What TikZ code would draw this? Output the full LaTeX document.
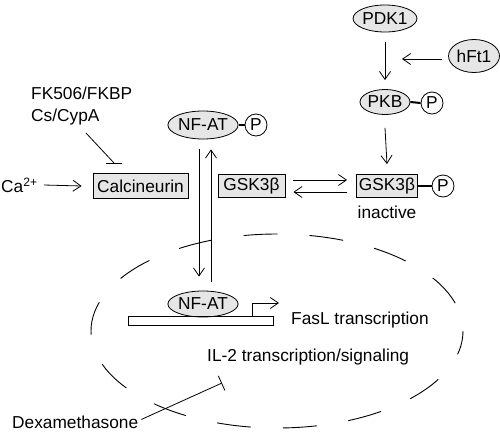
\documentclass[tikz,border=0pt]{standalone}
\usepackage{fontspec}
\setmainfont{Liberation Sans}
\usetikzlibrary{arrows.meta,shapes.geometric}
\definecolor{boxgray}{RGB}{230,230,230}
\tikzset{
  every node/.style={font=\fontsize{17.3}{22}\selectfont},
  oval/.style={ellipse,draw,fill=boxgray,inner sep=0pt,line width=0.8pt},
  gbox/.style={rectangle,draw,fill=boxgray,inner sep=0pt,line width=0.8pt,minimum height=23},
  phos/.style={circle,draw,fill=white,inner sep=0pt,minimum size=22,line width=0.8pt},
  link/.style={line width=2pt},
  arr/.style={line width=0.8pt,-{Straight Barb[length=8pt,width=11pt]}},
  inh/.style={line width=0.8pt},
  txt/.style={inner sep=0pt}
}
\begin{document}
\begin{tikzpicture}[x=1pt,y=-1pt]
\useasboundingbox (0,0) rectangle (500,434);
% nucleus
\draw[line width=0.9pt,dash pattern=on 34pt off 32pt,dash phase=10pt] (277,331) ellipse [x radius=186,y radius=97];
% top right
\node[oval,minimum width=57,minimum height=27] (pdk1) at (385,18.5) {PDK1};
\node[oval,minimum width=51,minimum height=33] (hft1) at (474,56) {hFt1};
\node[oval,minimum width=50,minimum height=25] (pkb) at (385,102) {PKB};
\node[phos] (pkbP) at (432,103) {P};
\draw[link] (pkb.east) -- (pkbP.west);
\node[gbox,minimum width=61] (gskR) at (387,186) {GSK3β};
\node[phos] (gskRP) at (443,186) {P};
\draw[link] (gskR.east) -- (gskRP.west);
\node[txt] (inact) at (387,212) {inactive};
\coordinate (hftend) at (402,59);
\draw[arr] ([yshift=-10pt]pdk1.south) -- ([yshift=9pt]pkb.north);
\draw[arr] ([yshift=-3pt,xshift=-6pt]hft1.west) -- (hftend);
\draw[arr] ([yshift=-13pt]pkb.south) -- ([yshift=10pt]gskR.north);
% GSK left
\node[gbox,minimum width=67] (gskL) at (251.5,186) {GSK3β};
\draw[arr] ([xshift=8pt,yshift=6pt]gskL.east) -- ([xshift=-9pt,yshift=6pt]gskR.west);
\draw[arr] ([xshift=-9pt,yshift=-6pt]gskR.west) -- ([xshift=8pt,yshift=-6pt]gskL.east);
% NF-AT
\node[oval,minimum width=64,minimum height=28] (nfatT) at (203,125) {NF-AT};
\node[phos] (nfatTP) at (256,125) {P};
\draw[link] (nfatT.east) -- (nfatTP.west);
\node[oval,minimum width=64,minimum height=26] (nfatB) at (203,304) {NF-AT};
\draw[arr] ([xshift=-4pt,yshift=-10pt]nfatT.south) -- ([xshift=-4pt,yshift=14pt]nfatB.north);
\draw[arr] ([xshift=8pt,yshift=9pt]nfatB.north) -- ([xshift=8pt,yshift=-10pt]nfatT.south);
% calcineurin
\node[gbox,minimum width=95,minimum height=25] (calc) at (140.5,186) {Calcineurin};
\node[txt,anchor=west] (ca) at (1,185) {Ca\textsuperscript{2+}};
\draw[arr] ([xshift=6pt]ca.east) -- ([xshift=-11pt]calc.west);
\node[txt,anchor=west,align=left] (fk) at (31,106) {FK506/FKBP\\Cs/CypA};
\coordinate (fkend) at (114,163);
\draw[inh] (86,133) -- (fkend);
\draw[inh] ([xshift=-8pt]fkend) -- ([xshift=8pt]fkend);
% gene
\node[draw,rectangle,line width=0.8pt,inner sep=0pt,minimum width=145,minimum height=9,anchor=north west] (gene) at (128,316) {};
\coordinate (tss) at (252,316);
\coordinate (tssend) at (279,303);
\draw[arr] (tss) |- (tssend);
\node[txt,anchor=west] (fasl) at (291,320) {FasL transcription};
\node[txt,anchor=west] (il2) at (207,357) {IL-2 transcription/signaling};
\node[txt,anchor=west] (dexa) at (12,422) {Dexamethasone};
\coordinate (dexend) at (222,383);
\draw[inh,-{Bar[width=16pt]}] ([xshift=3pt,yshift=-4pt]dexa.north east) -- (dexend);
\end{tikzpicture}
\end{document}
